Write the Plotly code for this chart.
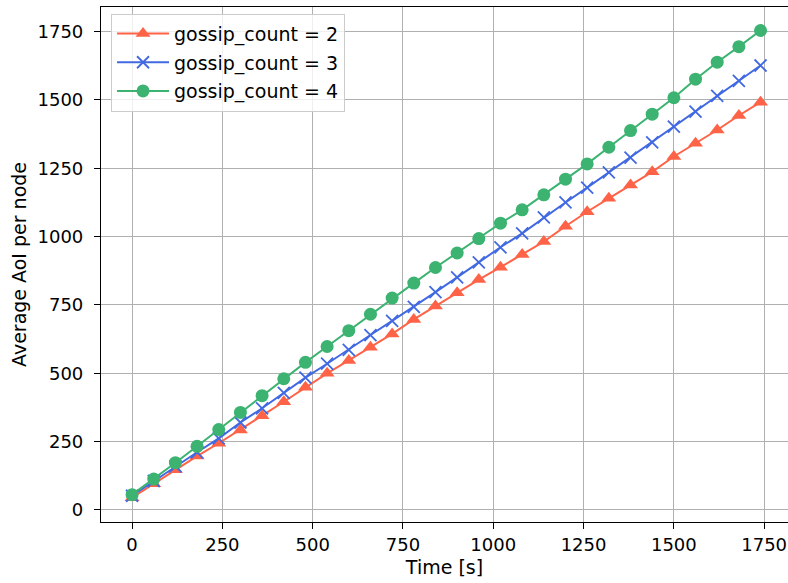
import plotly.graph_objects as go

time_s = [i * 60 for i in range(30)]

aoi_g2 = [45, 96, 147, 197, 244, 293, 345, 396, 449, 500, 547, 595, 644, 697, 746, 795,
          843, 888, 935, 982, 1038, 1091, 1140, 1189, 1237, 1293, 1342, 1390, 1443, 1492]
aoi_g3 = [52, 106, 160, 211, 262, 320, 372, 428, 484, 535, 586, 640, 692, 743, 797, 851,
          906, 961, 1012, 1070, 1125, 1179, 1235, 1289, 1345, 1402, 1457, 1515, 1570, 1626]
aoi_g4 = [56, 113, 173, 233, 294, 357, 418, 480, 540, 598, 656, 716, 775, 830, 887, 940,
          993, 1049, 1098, 1153, 1210, 1266, 1327, 1388, 1448, 1508, 1576, 1638, 1695, 1754]

series_names = ["gossip_count = 2", "gossip_count = 3", "gossip_count = 4"]
series_values = [aoi_g2, aoi_g3, aoi_g4]
series_colors = ["#FF6347", "#4169E1", "#3CB371"]
series_symbols = ["triangle-up", "x-thin", "circle"]

x_ticks = [0, 250, 500, 750, 1000, 1250, 1500, 1750]
y_ticks = [0, 250, 500, 750, 1000, 1250, 1500, 1750]

FONT = "DejaVu Sans"
TICK_SIZE = 18
LABEL_SIZE = 19

fig = go.Figure()
for i, (name, vals, col, sym) in enumerate(zip(series_names, series_values, series_colors, series_symbols)):
    marker = dict(symbol=sym, size=13, color=col)
    if sym == "x-thin":
        marker.update(size=12, line=dict(color=col, width=1.8))
    fig.add_trace(go.Scatter(
        x=time_s, y=vals, name=name, mode="lines+markers", legendgroup=f"g{i}",
        line=dict(color=col, width=2.0), marker=marker,
    ))

axis_common = dict(
    showgrid=True, gridcolor="#b0b0b0", gridwidth=1,
    showline=True, linecolor="black", linewidth=1.2, mirror=True,
    ticks="outside", ticklen=6, tickwidth=1.2, tickcolor="black",
    zeroline=False,
    tickfont=dict(family=FONT, size=TICK_SIZE, color="black"),
)

fig.update_layout(
    width=788, height=583,
    margin=dict(l=101, r=0, t=7, b=61),
    paper_bgcolor="white", plot_bgcolor="white",
    font=dict(family=FONT, size=LABEL_SIZE, color="black"),
    showlegend=True,
    legend=dict(
        x=0.0146, y=0.987, xanchor="left", yanchor="top",
        bgcolor="rgba(255,255,255,0.8)", bordercolor="#cccccc", borderwidth=1,
        font=dict(family=FONT, size=LABEL_SIZE, color="black"),
        tracegroupgap=1, itemwidth=52,
    ),
)
fig.update_xaxes(
    range=[-86, 1816], tickvals=x_ticks, ticktext=[str(v) for v in x_ticks],
    title=dict(text="Time [s]", font=dict(family=FONT, size=LABEL_SIZE, color="black"), standoff=6),
    **axis_common,
)
fig.update_yaxes(
    range=[-44, 1840], tickvals=y_ticks, ticktext=[str(v) for v in y_ticks],
    ticklabelstandoff=7,
    title=dict(text="Average AoI per node", font=dict(family=FONT, size=LABEL_SIZE, color="black"), standoff=5),
    **axis_common,
)

fig.write_html("out.html")
